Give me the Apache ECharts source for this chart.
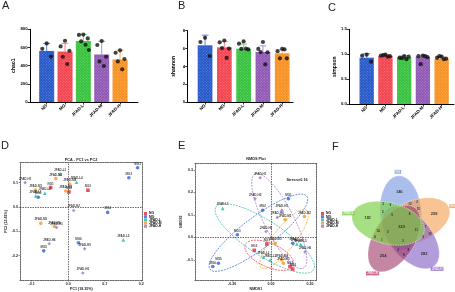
<!DOCTYPE html>
<html><head><meta charset="utf-8">
<script src="https://cdn.jsdelivr.net/npm/echarts@6/dist/echarts.min.js"></script>
<style>html,body{margin:0;padding:0;background:#fff}#c{width:455px;height:292px}</style>
</head><body><div id="c"></div>
<script>
// ---------------- data ----------------
const groups = ['NG','MG','JFAD-L','JFAD-M','JFAD-H'];
const chao1Mean = [562,555,672,523,468];
const chao1Sd = [83,91,72,145,104];
const chao1Dots = [[645,585,500],[674,612,564,498,418],[742,738,700,668,630,572],[671,627,498,447,396],[569,542,473,447,360]];
const shannonMean = [6.36,6.13,5.98,5.61,5.46];
const shannonSd = [1.14,0.67,0.52,0.69,0.44];
const shannonDots = [[7.2,6.73,5.16],[6.9,6.7,6.0,6.05,4.94],[6.8,6.54,5.9,5.95,6.0],[6.73,5.95,5.58,5.6,4.23],[5.95,5.7,4.9,4.9,5.9]];
const simpsonMean = [0.93,0.97,0.94,0.95,0.91];
const simpsonSd = [0.08,0.02,0.03,0.03,0.04];
const simpsonDots = [[0.99,0.97,0.85],[0.99,0.97,0.96,0.98,0.95],[0.96,0.93,0.95,0.92,0.90],[0.97,0.96,0.94,0.80,0.96],[0.95,0.93,0.91,0.96,0.90]];
const chaoTicks = [0,200,400,600,800];
const shannonTicks = [0,2,4,6,8];
const simpsonTicks = [0,0.5,1.0,1.5];

// PCA (panel D) points per group
const pcaNG = [[-0.048,0.080],[0.002,0.062],[0.054,0.069]];
const pcaMG = [[-0.082,0.040],[0.166,0.120],[0.190,0.161],[0.108,-0.022],[-0.067,-0.180],[0.028,-0.147]];
const pcaL  = [[-0.089,0.046],[-0.064,0.057],[-0.022,0.136],[0.023,0.102],[0.151,-0.135]];
const pcaM  = [[-0.089,0.070],[-0.034,0.117],[-0.007,0.066],[0.004,0.094],[-0.075,-0.067],[-0.038,-0.080]];
const pcaH  = [[-0.118,0.100],[0.015,-0.014],[-0.032,-0.084],[-0.052,-0.151],[0.045,-0.171],[0.040,-0.271]];
const pcaXTicks = [-0.1,0,0.1,0.2];
const pcaYTicks = [-0.2,-0.1,0,0.1];

// NMDS (panel E) points per group
const nmdsNG = [[-0.022,-0.029],[-0.086,-0.057],[0.097,-0.129],[0.111,-0.140]];
const nmdsMG = [[0.089,0.172],[-0.043,0.121],[-0.173,0.012],[0.111,-0.026],[-0.270,-0.114],[-0.299,-0.129]];
const nmdsL  = [[-0.248,0.129],[-0.039,-0.086],[-0.005,-0.100],[0.132,-0.029],[0.152,-0.031]];
const nmdsM  = [[0.072,0.079],[0.171,0.093],[0.021,-0.026],[0.055,-0.100],[0.063,-0.114]];
const nmdsH  = [[-0.056,0.265],[-0.082,0.172],[0.055,0.121],[0.032,0.089],[-0.026,0.026],[0.174,-0.064]];
// confidence ellipses: centre (x,y), major-axis end (x,y), minor/major ratio
const ellNG = [-0.009,-0.079,0.114,-0.126,0.45];
const ellMG = [-0.065,0.021,0.183,0.183,0.26];
const ellL  = [-0.032,-0.004,-0.282,0.136,0.30];
const ellM  = [0.067,-0.007,0.183,0.121,0.30];
const ellH  = [0.042,0.073,-0.082,0.282,0.28];
const nmdsXTicks = [-0.2,0,0.2];
const nmdsYTicks = [-0.1,0,0.1,0.2,0.3];
const stressText = 'Stress=0.16';

// Venn (panel F)
const vennSets = ['NG','MG','JFAD-H','JFAD-M','JFAD-L'];
const vennUnique = [146,258,282,254,181];
const vennCore = 323;
const vennShared = [12,9,5,3,7,15,4,2,8,6,11,10,1,6,3,9,5,14,2,4];

// ---------------- styles / layout ----------------
const FONT = 'Liberation Sans, Arial, sans-serif';
const barColors = ['#2456c8','#f2424e','#35c13c','#8e56b4','#f7901e'];
const errColors = ['#5f84e2','#f5808a','#72d874','#b08ad0','#f9b060'];
const grpColors = ['#e8243c','#2a63d6','#1fb5a8','#f59a1c','#9a6fd0'];
const grpSymbols = ['rect','circle','triangle','circle','diamond'];
const petalColors = ['rgba(120,150,225,0.62)','rgba(246,160,80,0.62)','rgba(130,95,195,0.62)','rgba(160,60,105,0.62)','rgba(130,210,80,0.70)'];
const petalLabelColors = ['#7b9be0','#f59a40','#8a63c6','#c0406e','#7ccf4c'];
const jitter = [0,-0.24,0.24,-0.12,0.12,0.3];
const dotted = [1.5,1];

function dotData(dots){const out=[];dots.forEach((arr,i)=>arr.forEach((v,j)=>out.push([i+1+jitter[j%jitter.length],v])));return out;}

const grids = [
  {left:30,top:29.3,width:108,height:72.7},
  {left:187.7,top:30.7,width:105.3,height:71.3},
  {left:349.3,top:29.3,width:104.7,height:74.7},
  {left:20,top:162.7,width:122.7,height:120.6},
  {left:195,top:163.3,width:121.7,height:120.7},
  {left:345,top:160,width:110,height:120}
];

function barX(gi,min,max){return {type:'value',gridIndex:gi,min:min,max:max,
  axisLine:{show:true,onZero:false,lineStyle:{color:'#000',width:1}},
  axisTick:{show:true,customValues:[1,2,3,4,5],length:2.5,lineStyle:{color:'#000',width:0.8}},
  axisLabel:{customValues:[1,2,3,4,5],formatter:v=>groups[Math.round(v)-1],rotate:45,fontSize:4.4,fontWeight:'bold',color:'#000',fontFamily:FONT,margin:3},
  splitLine:{show:false}};}
function barY(gi,ticks,name,fmt){return {type:'value',gridIndex:gi,min:ticks[0],max:ticks[ticks.length-1],interval:ticks[1]-ticks[0],
  name:name,nameLocation:'middle',nameGap:12,nameTextStyle:{fontSize:5,fontWeight:'bold',color:'#000',fontFamily:FONT},
  axisLine:{show:true,lineStyle:{color:'#000',width:1}},axisTick:{show:true,length:2.5,lineStyle:{color:'#000',width:0.8}},
  axisLabel:{fontSize:4.2,fontWeight:'bold',color:'#000',fontFamily:FONT,margin:2.5,formatter:fmt},splitLine:{show:false}};}
function boxAxis(kind,gi,pos,min,max,ticks,fmt,name,gap){
  const a={type:'value',gridIndex:gi,position:pos,min:min,max:max,
    axisLine:{show:true,onZero:false,lineStyle:{color:'#444',width:0.8,type:dotted}},
    splitLine:{show:false}};
  if(ticks){a.axisTick={show:true,customValues:ticks,length:1.5,lineStyle:{color:'#444',width:0.6}};
    a.axisLabel={customValues:ticks,formatter:fmt,fontSize:3.6,fontWeight:'bold',color:'#222',fontFamily:FONT,margin:2};
    a.name=name;a.nameLocation='middle';a.nameGap=gap;a.nameTextStyle={fontSize:3.6,fontWeight:'bold',color:'#222',fontFamily:FONT};}
  else {a.axisTick={show:false};a.axisLabel={show:false};}
  return a;}

const xAxes=[barX(0,0.09,5.98),barX(1,0.1,5.56),barX(2,0.072,5.66),
  boxAxis('x',3,'bottom',-0.132,0.204,pcaXTicks,v=>v.toFixed(1),'PC1 (18.35%)',4.5),
  boxAxis('x',3,'top',-0.132,0.204,null),
  boxAxis('x',4,'bottom',-0.39,0.234,nmdsXTicks,v=>v.toFixed(2),'NMDS1',4.5),
  boxAxis('x',4,'top',-0.39,0.234,null),
  {type:'value',gridIndex:5,min:-55,max:55,show:false}];
const yAxes=[barY(0,chaoTicks,'chao1'),barY(1,shannonTicks,'shannon'),barY(2,simpsonTicks,'simpson',v=>v.toFixed(1)),
  boxAxis('y',3,'left',-0.3,0.182,pcaYTicks,v=>v.toFixed(1),'PC2 (12.41%)',8),
  boxAxis('y',3,'right',-0.3,0.182,null),
  boxAxis('y',4,'left',-0.189,0.329,nmdsYTicks,v=>v.toFixed(1),'NMDS2',9),
  boxAxis('y',4,'right',-0.189,0.329,null),
  {type:'value',gridIndex:5,min:-60,max:60,show:false}];

const series=[];
const decal={symbol:'rect',symbolSize:1,color:'rgba(255,255,255,0.28)',dashArrayX:[1,1],dashArrayY:[1,1],rotation:Math.PI/4};
function addBars(ai,means,sds,dots,bw){
  series.push({type:'bar',name:'bar'+ai,xAxisIndex:ai,yAxisIndex:ai,barWidth:bw,z:2,silent:true,
    data:means.map((v,i)=>({value:[i+1,v],itemStyle:{color:barColors[i],decal:decal}}))});
  series.push({type:'custom',name:'err'+ai,xAxisIndex:ai,yAxisIndex:ai,z:3,silent:true,
    data:means.map((m,i)=>[i+1,m,m+sds[i]]),
    renderItem:(p,api)=>{const b=api.coord([api.value(0),api.value(1)]);const t=api.coord([api.value(0),api.value(2)]);const c=errColors[p.dataIndex];
      return {type:'group',children:[
        {type:'line',shape:{x1:b[0],y1:b[1],x2:t[0],y2:t[1]},style:{stroke:c,lineWidth:1}},
        {type:'line',shape:{x1:t[0]-3.5,y1:t[1],x2:t[0]+3.5,y2:t[1]},style:{stroke:c,lineWidth:1}}]};}});
  series.push({type:'scatter',name:'dots'+ai,xAxisIndex:ai,yAxisIndex:ai,z:4,silent:true,symbolSize:4.2,
    itemStyle:{color:'#111'},data:dotData(dots)});
}
addBars(0,chao1Mean,chao1Sd,chao1Dots,15);
addBars(1,shannonMean,shannonSd,shannonDots,14.7);
addBars(2,simpsonMean,simpsonSd,simpsonDots,14.3);

const crossLine={silent:true,symbol:'none',label:{show:false},lineStyle:{color:'#444',width:0.8,type:dotted},data:[{xAxis:0},{yAxis:0}]};
const ptLabel={show:true,position:'top',distance:0.5,fontSize:3,fontWeight:'bold',color:'#111',fontFamily:FONT,formatter:p=>p.name};
[pcaNG,pcaMG,pcaL,pcaM,pcaH].forEach((arr,g)=>{
  series.push({type:'scatter',name:groups[g],xAxisIndex:3,yAxisIndex:3,symbol:grpSymbols[g],symbolSize:3.6,
    itemStyle:{color:grpColors[g]},label:ptLabel,
    data:arr.map((v,i)=>({name:groups[g]+(i+1),value:v})),
    markLine:g===0?crossLine:undefined});
});
[nmdsNG,nmdsMG,nmdsL,nmdsM,nmdsH].forEach((arr,g)=>{
  series.push({type:'scatter',name:groups[g],xAxisIndex:5,yAxisIndex:5,symbol:grpSymbols[g],symbolSize:3.6,z:4,
    itemStyle:{color:grpColors[g]},label:ptLabel,
    data:arr.map((v,i)=>({name:groups[g]+(i+1),value:v})),
    markLine:g===0?crossLine:undefined});
});
function ellipsePts(c,a,b,ang){const pts=[];for(let k=0;k<80;k++){const t=k/80*2*Math.PI;const x=a*Math.cos(t),y=b*Math.sin(t);
  pts.push([c[0]+x*Math.cos(ang)-y*Math.sin(ang),c[1]+x*Math.sin(ang)+y*Math.cos(ang)]);}return pts;}
function ellRender(colors,fills,dash,stroke,lw){return (p,api)=>{
  const c=api.coord([api.value(0),api.value(1)]);const e=api.coord([api.value(2),api.value(3)]);
  const dx=e[0]-c[0],dy=e[1]-c[1];const a=Math.hypot(dx,dy);const ang=Math.atan2(dy,dx);
  return {type:'polygon',shape:{points:ellipsePts(c,a,a*api.value(4),ang)},
    style:{fill:fills?fills[p.dataIndex]:'none',stroke:stroke||colors[p.dataIndex],lineWidth:lw,lineDash:dash}};};}
series.push({type:'custom',name:'ellipses',xAxisIndex:5,yAxisIndex:5,z:2,silent:true,
  data:[ellNG,ellMG,ellL,ellM,ellH],renderItem:ellRender(grpColors,null,[2,1],null,0.7)});

// Venn layout (geometry in panel-F units, 1 unit = 1 px)
const vc=[1.7,-6.7];
const dirs=vennSets.map((s,k)=>{const a=(94-72*k)*Math.PI/180;return [Math.cos(a),Math.sin(a)];});
const at=(d,r)=>[vc[0]+d[0]*r,vc[1]+d[1]*r];
const rot=(d,deg)=>{const a=Math.atan2(d[1],d[0])+deg*Math.PI/180;return [Math.cos(a),Math.sin(a)];};
series.push({type:'custom',name:'venn',xAxisIndex:7,yAxisIndex:7,z:2,silent:true,
  data:dirs.map(d=>{const c=at(d,14),e=at(d,51);return [c[0],c[1],e[0],e[1],0.56];}),
  renderItem:ellRender(null,petalColors,[1.5,1],'rgba(255,255,255,0.85)',0.6)});
const vennText=[];
vennUnique.forEach((n,k)=>vennText.push({value:at(dirs[k],35),name:String(n),big:true}));
vennText.push({value:vc,name:String(vennCore),big:true});
const ringSpec=[[24,-24],[24,24],[15,36],[29,36]];
dirs.forEach((d,k)=>ringSpec.forEach((rs,j)=>vennText.push({value:at(rot(d,rs[1]),rs[0]),name:String(vennShared[(k*4+j)%vennShared.length])})));
series.push({type:'scatter',name:'vennNums',xAxisIndex:7,yAxisIndex:7,z:5,silent:true,symbolSize:0,
  data:vennText.map(t=>({value:t.value,name:t.name,label:{fontSize:t.big?4:3}})),
  label:{show:true,position:'inside',fontWeight:'bold',color:'#111',fontFamily:FONT,formatter:p=>p.name}});
series.push({type:'scatter',name:'vennSets',xAxisIndex:7,yAxisIndex:7,z:5,silent:true,symbolSize:0,
  data:vennSets.map((s,k)=>({value:at(dirs[k],55),name:s,label:{backgroundColor:petalLabelColors[k]}})),
  label:{show:true,position:'inside',fontSize:3,fontWeight:'bold',color:'#fff',padding:[0.5,1],fontFamily:FONT,formatter:p=>p.name}});

const letter=(t,x,y)=>({type:'text',x:x,y:y,style:{text:t,font:'11px '+FONT,fill:'#222'}});
const small=(t,x,y,align)=>({type:'text',x:x,y:y,style:{text:t,font:'bold 3.8px '+FONT,fill:'#222',textAlign:align||'center',textVerticalAlign:'middle'}});

const option={animation:false,
  grid:grids,xAxis:xAxes,yAxis:yAxes,series:series,
  legend:[
    {data:groups,orient:'vertical',left:144,top:212,itemWidth:3,itemHeight:3,itemGap:0.2,padding:0,icon:'rect',selectedMode:false,
     textStyle:{fontSize:3.4,fontWeight:'bold',color:'#111',fontFamily:FONT,padding:[0,0,0,-3]}},
    {data:groups,orient:'vertical',left:321,top:212,itemWidth:3,itemHeight:3,itemGap:0.2,padding:0,icon:'rect',selectedMode:false,
     textStyle:{fontSize:3.4,fontWeight:'bold',color:'#111',fontFamily:FONT,padding:[0,0,0,-3]}}],
  graphic:[letter('A',2,0),letter('B',178,0),letter('C',328,2),letter('D',1,140),letter('E',178,140),letter('F',332,141),
    small('PCA - PC1 vs PC2',81,160),small('NMDS Plot',256,159),small(stressText,297,179.5)]
};
const chart=echarts.init(document.getElementById('c'));
chart.setOption(option);
</script></body></html>
